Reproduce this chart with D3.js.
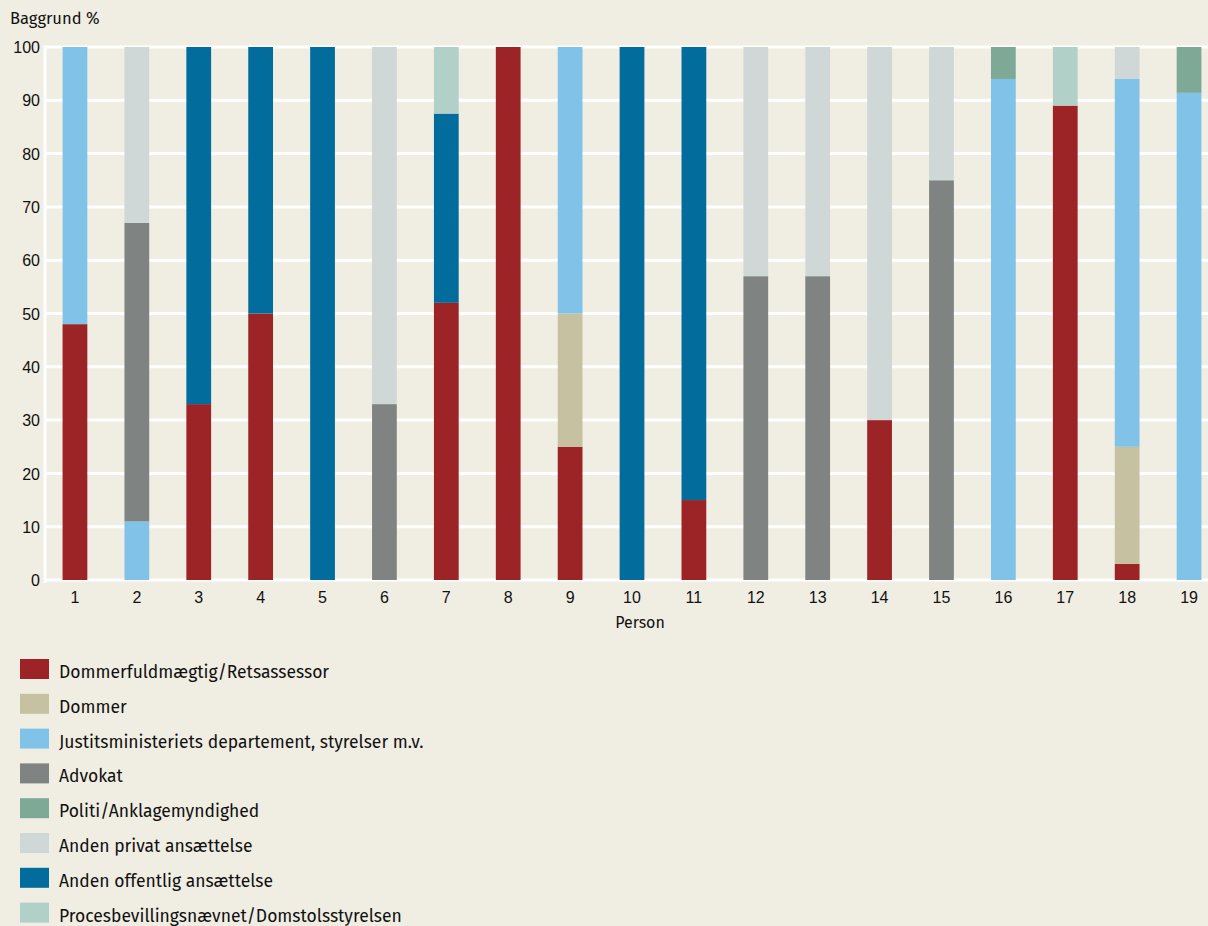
<!DOCTYPE html>
<html>
<head>
<meta charset="utf-8">
<title>Baggrund</title>
<script src="https://cdn.jsdelivr.net/npm/d3@7"></script>
<style>
body { margin: 0; background: #f0ede2; }
svg { display: block; font-family: "Fira Sans", "Open Sans", "Noto Sans", sans-serif; }
.tick text { font-size: 16px; fill: #111; }
</style>
</head>
<body>
<svg width="1208" height="926"></svg>
<script>
var persons = ["1","2","3","4","5","6","7","8","9","10","11","12","13","14","15","16","17","18","19"];

var categories = [
  "Dommerfuldmægtig/Retsassessor",
  "Dommer",
  "Justitsministeriets departement, styrelser m.v.",
  "Advokat",
  "Politi/Anklagemyndighed",
  "Anden privat ansættelse",
  "Anden offentlig ansættelse",
  "Procesbevillingsnævnet/Domstolsstyrelsen"
];

var colors = ["#9c2427", "#c6c1a0", "#80c2e8", "#7f8482", "#7fa997", "#cfd8d7", "#026d9c", "#b1d0c8"];

// one array per category, values per person (percent)
var dommerfuldmaegtig = [48, 0, 33, 50, 0, 0, 52, 100, 25, 0, 15, 0, 0, 30, 0, 0, 89, 3, 0];
var dommer            = [0, 0, 0, 0, 0, 0, 0, 0, 25, 0, 0, 0, 0, 0, 0, 0, 0, 22, 0];
var justitsmin        = [52, 11, 0, 0, 0, 0, 0, 0, 50, 0, 0, 0, 0, 0, 0, 94, 0, 69, 91.4];
var advokat           = [0, 56, 0, 0, 0, 33, 0, 0, 0, 0, 0, 57, 57, 0, 75, 0, 0, 0, 0];
var politi            = [0, 0, 0, 0, 0, 0, 0, 0, 0, 0, 0, 0, 0, 0, 0, 6, 0, 0, 8.6];
var andenPrivat       = [0, 33, 0, 0, 0, 67, 0, 0, 0, 0, 0, 43, 43, 70, 25, 0, 0, 6, 0];
var andenOffentlig    = [0, 0, 67, 50, 100, 0, 35.5, 0, 0, 100, 85, 0, 0, 0, 0, 0, 0, 0, 0];
var procesbev         = [0, 0, 0, 0, 0, 0, 12.5, 0, 0, 0, 0, 0, 0, 0, 0, 0, 11, 0, 0];

var series = [dommerfuldmaegtig, dommer, justitsmin, advokat, politi, andenPrivat, andenOffentlig, procesbev];

var yTicks = [0, 10, 20, 30, 40, 50, 60, 70, 80, 90, 100];

var svg = d3.select("svg");

var rows = persons.map(function(p, i) {
  var r = { person: p };
  categories.forEach(function(c, j) { r[c] = series[j][i]; });
  return r;
});

var stack = d3.stack().keys(categories)(rows);

var x = d3.scaleBand().domain(persons).range([44, 1220]).paddingInner(0.6).paddingOuter(0.3);
var y = d3.scaleLinear().domain([0, 100]).range([580, 47]);

// gridlines
svg.append("g").selectAll("line")
    .data(yTicks)
  .enter().append("line")
    .attr("x1", 44).attr("x2", 1208)
    .attr("y1", function(d) { return y(d); })
    .attr("y2", function(d) { return y(d); })
    .attr("stroke", "#fff")
    .attr("stroke-width", 3);

svg.append("line")
    .attr("x1", 45).attr("x2", 45)
    .attr("y1", y(100) - 1.5).attr("y2", y(0) + 3)
    .attr("stroke", "#fff").attr("stroke-width", 3);

// bars
svg.append("g").selectAll("g")
    .data(stack)
  .enter().append("g")
    .attr("fill", function(d, i) { return colors[i]; })
  .selectAll("rect")
    .data(function(d) { return d; })
  .enter().append("rect")
    .attr("x", function(d) { return x(d.data.person); })
    .attr("width", x.bandwidth())
    .attr("y", function(d) { return y(d[1]); })
    .attr("height", function(d) { return y(d[0]) - y(d[1]); });

// axes
var yAxis = svg.append("g")
    .attr("transform", "translate(40,0)")
    .call(d3.axisLeft(y).tickValues(yTicks).tickSize(0).tickPadding(0));
yAxis.select(".domain").remove();
yAxis.selectAll("text").attr("dy", "0.35em");

var xAxis = svg.append("g")
    .attr("transform", "translate(0,589)")
    .call(d3.axisBottom(x).tickSize(0).tickPadding(0));
xAxis.select(".domain").remove();
xAxis.selectAll("text").attr("dy", "0.85em");

svg.append("text")
    .attr("x", 10).attr("y", 24)
    .style("font-size", "16.5px").attr("fill", "#111")
    .text("Baggrund %");

svg.append("text")
    .attr("x", 640).attr("y", 628)
    .attr("text-anchor", "middle")
    .style("font-size", "16px").attr("fill", "#111")
    .text("Person");

// legend
var legend = svg.append("g").selectAll("g")
    .data(categories)
  .enter().append("g")
    .attr("transform", function(d, i) { return "translate(20," + (659 + i * 34.8) + ")"; });

legend.append("rect")
    .attr("width", 29).attr("height", 20)
    .attr("fill", function(d, i) { return colors[i]; });

legend.append("text")
    .attr("x", 39).attr("y", 19)
    .style("font-size", "17.5px").attr("fill", "#111")
    .text(function(d) { return d; });
</script>
</body>
</html>
